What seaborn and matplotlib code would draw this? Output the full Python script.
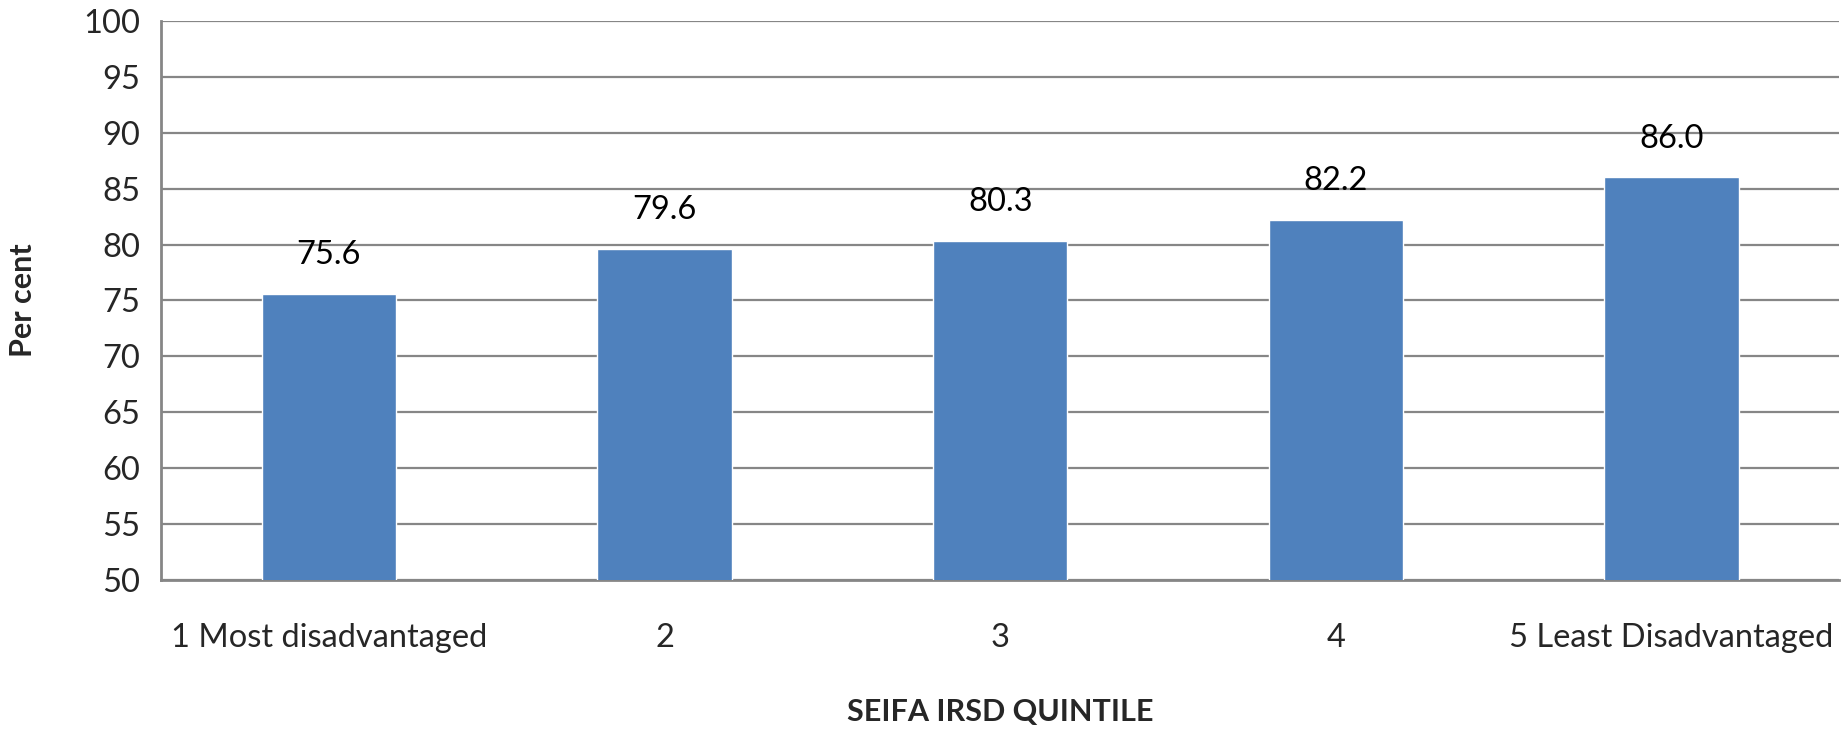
import matplotlib
matplotlib.use("Agg")
import matplotlib.pyplot as plt
import seaborn as sns
import pandas as pd

categories = ["1 Most disadvantaged", "2", "3", "4", "5 Least Disadvantaged"]
percent = [75.6, 79.6, 80.3, 82.2, 86.0]
y_ticks = [50, 55, 60, 65, 70, 75, 80, 85, 90, 95, 100]

df = pd.DataFrame({"quintile": categories, "percent": percent})

sns.set_theme(style="white")
plt.rcParams["font.family"] = ["Lato", "DejaVu Sans"]

fig = plt.figure(figsize=(18.43, 7.29), dpi=100)
ax = fig.add_axes([0.0874, 0.205, 0.9106, 0.766])

bar_color = "#4F81BD"
grid_color = "#868686"
label_size = 23.5

sns.barplot(data=df, x="quintile", y="percent", color=bar_color,
            width=0.4, saturation=1, ax=ax, zorder=3)

ax.set_ylim(50, 100)
ax.set_yticks(y_ticks)
ax.set_yticklabels([str(t) for t in y_ticks], fontsize=label_size)
ax.set_xlim(-0.5, len(categories) - 0.5)
ax.tick_params(axis="x", labelsize=label_size, length=0, pad=31)
ax.tick_params(axis="y", direction="out", length=9, width=1.5,
               color=grid_color, pad=6)

ax.yaxis.grid(True, color=grid_color, linewidth=1.6, zorder=0)
ax.set_axisbelow(True)

for side in ["top", "right"]:
    ax.spines[side].set_visible(False)
for side in ["left", "bottom"]:
    ax.spines[side].set_color(grid_color)
    ax.spines[side].set_linewidth(2)

for i, v in enumerate(percent):
    ax.annotate(f"{v:.1f}", (i, v), xytext=(0, 28), textcoords="offset points",
                ha="center", va="center", fontsize=label_size, color="black")

ax.set_ylabel("Per cent", fontsize=22, fontweight="bold")
ax.yaxis.label.set_va("center")
ax.yaxis.set_label_coords(-0.082, 0.5)
ax.set_xlabel("SEIFA IRSD QUINTILE", fontsize=22, fontweight="bold")
ax.xaxis.label.set_va("center")
ax.xaxis.set_label_coords(0.5, -0.237)

fig.savefig("out.png", dpi=100, facecolor="white")
